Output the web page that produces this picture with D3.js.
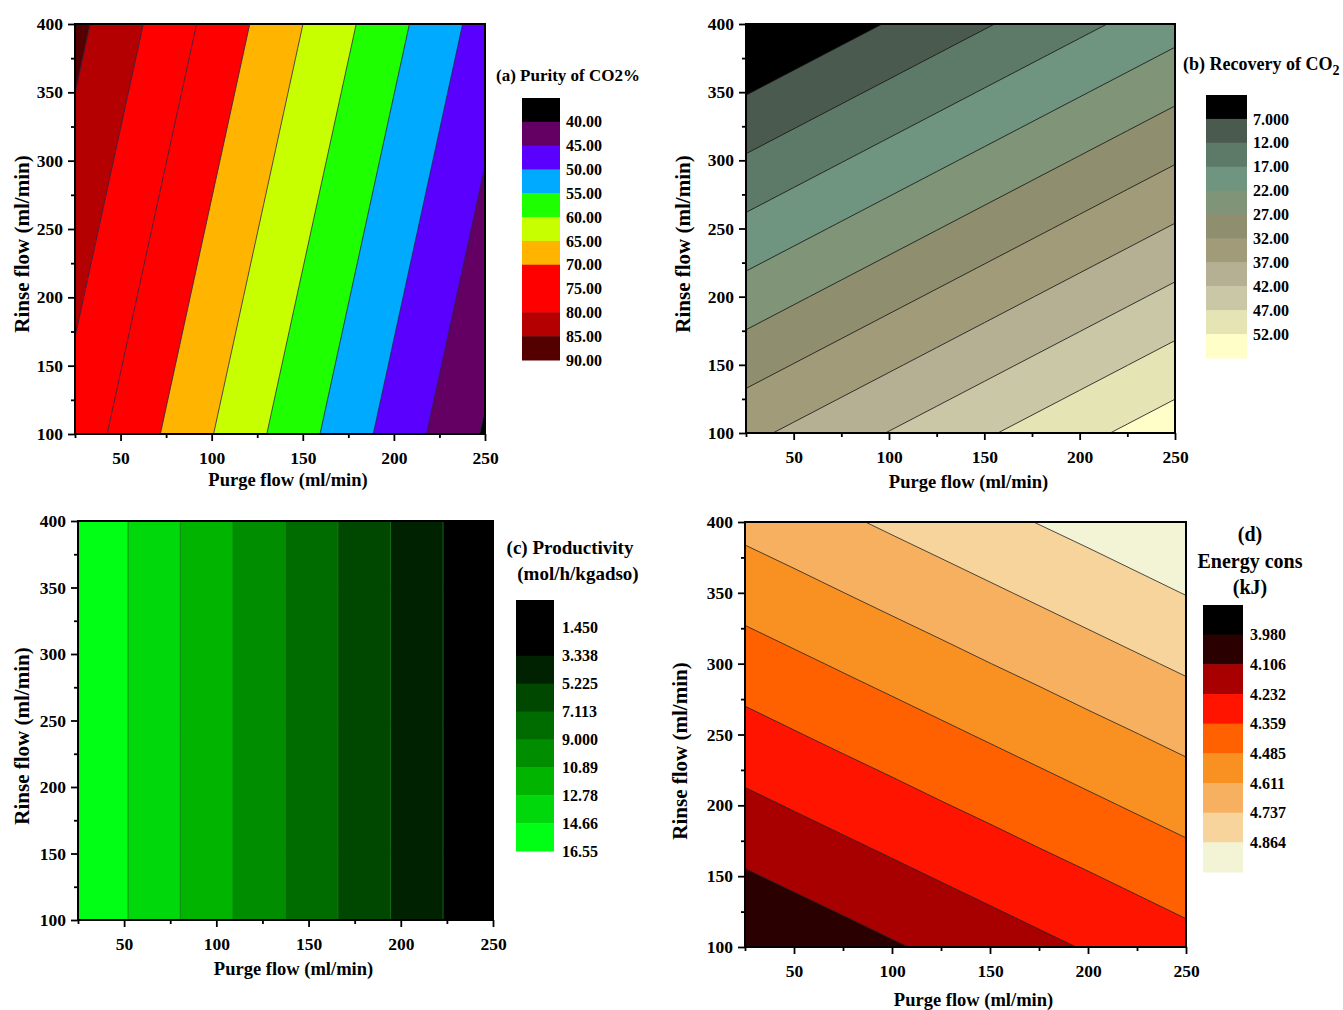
<!DOCTYPE html>
<html>
<head>
<meta charset="utf-8">
<script src="https://cdn.jsdelivr.net/npm/d3@7"></script>
<style>
body { margin: 0; background: #fff; }
text { font-family: "Liberation Serif", "Times New Roman", serif; font-weight: bold; fill: #000; }
</style>
</head>
<body>
<svg width="1343" height="1010"></svg>
<script>
// grid the surfaces are read on (purge across, rinse up)
var purge = [25, 50, 75, 100, 125, 150, 175, 200, 225, 250];
var rinse = [100, 150, 200, 250, 300, 350, 400];

// (a) purity of CO2 %, one row per rinse value
var purity = [
  [78.02, 73.74, 69.46, 65.18, 60.90, 56.62, 52.34, 48.06, 43.78, 39.50],
  [79.42, 75.14, 70.86, 66.58, 62.30, 58.02, 53.74, 49.46, 45.18, 40.90],
  [80.82, 76.54, 72.26, 67.98, 63.70, 59.42, 55.14, 50.86, 46.58, 42.30],
  [82.22, 77.94, 73.66, 69.38, 65.10, 60.82, 56.54, 52.26, 47.98, 43.70],
  [83.62, 79.34, 75.06, 70.78, 66.50, 62.22, 57.94, 53.66, 49.38, 45.10],
  [85.02, 80.74, 76.46, 72.18, 67.90, 63.62, 59.34, 55.06, 50.78, 46.50],
  [86.42, 82.14, 77.86, 73.58, 69.30, 65.02, 60.74, 56.46, 52.18, 47.90]
];
var purityLabels = ["40.00", "45.00", "50.00", "55.00", "60.00", "65.00", "70.00", "75.00", "80.00", "85.00", "90.00"];
var purityColors = ["#000000", "#640064", "#5a00ff", "#00aaff", "#1eff00", "#c8ff00", "#ffb400", "#ff0000", "#ff0000", "#b40000", "#550000"];

// (b) recovery of CO2
var recovery = [
  [35.80, 37.92, 40.04, 42.16, 44.28, 46.40, 48.52, 50.64, 52.76, 54.88],
  [29.99, 32.11, 34.23, 36.35, 38.47, 40.59, 42.71, 44.83, 46.95, 49.07],
  [24.18, 26.30, 28.42, 30.54, 32.66, 34.78, 36.90, 39.02, 41.14, 43.26],
  [18.37, 20.49, 22.61, 24.73, 26.85, 28.97, 31.09, 33.21, 35.33, 37.45],
  [12.56, 14.68, 16.80, 18.92, 21.04, 23.16, 25.28, 27.40, 29.52, 31.64],
  [6.75, 8.87, 10.99, 13.11, 15.23, 17.35, 19.47, 21.59, 23.71, 25.83],
  [0.94, 3.06, 5.18, 7.30, 9.42, 11.54, 13.66, 15.78, 17.90, 20.02]
];
var recoveryLabels = ["7.000", "12.00", "17.00", "22.00", "27.00", "32.00", "37.00", "42.00", "47.00", "52.00"];
var recoveryColors = ["#000000", "#4b5a4f", "#5d7a68", "#6f947f", "#809478", "#8f8e6e", "#a19b79", "#b5b094", "#cac7a7", "#e5e4b5", "#fffec8"];

// (c) productivity (mol/h/kgadso)
var productivity = [
  [16.46, 14.80, 13.14, 11.49, 9.83, 8.17, 6.51, 4.86, 3.20, 1.54],
  [16.46, 14.80, 13.14, 11.49, 9.83, 8.17, 6.51, 4.86, 3.20, 1.54],
  [16.46, 14.80, 13.14, 11.49, 9.83, 8.17, 6.51, 4.86, 3.20, 1.54],
  [16.46, 14.80, 13.14, 11.49, 9.83, 8.17, 6.51, 4.86, 3.20, 1.54],
  [16.46, 14.80, 13.14, 11.49, 9.83, 8.17, 6.51, 4.86, 3.20, 1.54],
  [16.46, 14.80, 13.14, 11.49, 9.83, 8.17, 6.51, 4.86, 3.20, 1.54],
  [16.46, 14.80, 13.14, 11.49, 9.83, 8.17, 6.51, 4.86, 3.20, 1.54]
];
var productivityLabels = ["1.450", "3.338", "5.225", "7.113", "9.000", "10.89", "12.78", "14.66", "16.55"];
var productivityColors = ["#000000", "#000000", "#002200", "#004800", "#006c00", "#008e00", "#00b400", "#00d80c", "#00ff14"];

// (d) energy consumption (kJ)
var energy = [
  [3.983, 4.020, 4.057, 4.094, 4.130, 4.167, 4.204, 4.241, 4.278, 4.315],
  [4.094, 4.131, 4.167, 4.204, 4.241, 4.278, 4.315, 4.351, 4.388, 4.425],
  [4.204, 4.241, 4.278, 4.315, 4.352, 4.388, 4.425, 4.462, 4.499, 4.536],
  [4.315, 4.352, 4.389, 4.425, 4.462, 4.499, 4.536, 4.573, 4.609, 4.646],
  [4.425, 4.462, 4.499, 4.536, 4.573, 4.610, 4.646, 4.683, 4.720, 4.757],
  [4.536, 4.573, 4.610, 4.647, 4.683, 4.720, 4.757, 4.794, 4.831, 4.868],
  [4.647, 4.683, 4.720, 4.757, 4.794, 4.831, 4.868, 4.904, 4.941, 4.978]
];
var energyLabels = ["3.980", "4.106", "4.232", "4.359", "4.485", "4.611", "4.737", "4.864"];
var energyColors = ["#000000", "#2a0000", "#a80000", "#ff1400", "#ff6000", "#f99022", "#f6b060", "#f6d49c", "#f3f3d6"];

var xMajor = [50, 100, 150, 200, 250],
    xMinor = [25, 75, 125, 175, 225],
    yMajor = [100, 150, 200, 250, 300, 350, 400],
    yMinor = [125, 175, 225, 275, 325, 375];

var svg = d3.select("svg");

var panels = [
  {id: "a", values: purity, labels: purityLabels, colors: purityColors, line: "#26264a",
   box: [75, 485, 24, 434], xt: 480, yt: [29, 244],
   leg: {x: 522, w: 38, y0: 98, y1: 360, lx: 566},
   title: [{t: "(a) Purity of CO2%", x: 496, y: 81, a: "start", s: 17}]},
  {id: "b", values: recovery, labels: recoveryLabels, colors: recoveryColors, line: "#111",
   box: [746, 1175, 24, 433], xt: 482, yt: [690, 244],
   leg: {x: 1206, w: 41, y0: 95, y1: 358, lx: 1253},
   title: [{t: "(b) Recovery of CO", sub: "2", x: 1183, y: 70, a: "start", s: 18}]},
  {id: "c", values: productivity, labels: productivityLabels, colors: productivityColors, line: "#1c7a1c",
   box: [78, 493, 521, 920], xt: 969, yt: [29, 736],
   leg: {x: 516, w: 38, y0: 600, y1: 851, lx: 562},
   title: [{t: "(c) Productivity", x: 570, y: 554, a: "middle", s: 19},
           {t: "(mol/h/kgadso)", x: 578, y: 580, a: "middle", s: 19}]},
  {id: "d", values: energy, labels: energyLabels, colors: energyColors, line: "#222",
   box: [745, 1186, 522, 947], xt: 1000, yt: [687, 751],
   leg: {x: 1203, w: 40, y0: 605, y1: 872, lx: 1250},
   title: [{t: "(d)", x: 1250, y: 541, a: "middle", s: 20},
           {t: "Energy cons", x: 1250, y: 568, a: "middle", s: 20},
           {t: "(kJ)", x: 1250, y: 594, a: "middle", s: 20}]}
];

panels.forEach(drawPanel);

function drawPanel(p) {
  var x0 = p.box[0], x1 = p.box[1], y0 = p.box[2], y1 = p.box[3];
  var x = d3.scaleLinear().domain([25, 250]).range([x0, x1]);
  var y = d3.scaleLinear().domain([100, 400]).range([y1, y0]);
  var levels = p.labels.map(Number);
  var g = svg.append("g");

  // contour bands from the grid
  var flat = [].concat.apply([], p.values);
  var bands = d3.contours().size([purge.length, rinse.length]).thresholds(levels)(flat);
  var dx = purge[1] - purge[0], dy = rinse[1] - rinse[0];
  var path = d3.geoPath(d3.geoTransform({
    point: function(px, py) {
      this.stream.point(x(purge[0] + (px - 0.5) * dx), y(rinse[0] + (py - 0.5) * dy));
    }
  }));

  g.append("clipPath").attr("id", "clip-" + p.id)
    .append("rect").attr("x", x0).attr("y", y0).attr("width", x1 - x0).attr("height", y1 - y0);

  var plot = g.append("g").attr("clip-path", "url(#clip-" + p.id + ")");
  plot.append("rect")
    .attr("x", x0).attr("y", y0).attr("width", x1 - x0).attr("height", y1 - y0)
    .attr("fill", p.colors[0]);
  plot.selectAll("path")
    .data(bands)
    .join("path")
      .attr("d", path)
      .attr("fill", function(d, i) { return p.colors[Math.min(i + 1, p.colors.length - 1)]; })
      .attr("stroke", p.line)
      .attr("stroke-width", 0.8);

  // axes
  var ax = g.append("g").attr("transform", "translate(0," + y1 + ")");
  ax.call(d3.axisBottom(x).tickValues(xMajor).tickSize(7).tickPadding(11).tickFormat(d3.format("d")));
  ax.append("g").call(d3.axisBottom(x).tickValues(xMinor).tickSize(4).tickFormat(""));
  var ay = g.append("g").attr("transform", "translate(" + x0 + ",0)");
  ay.call(d3.axisLeft(y).tickValues(yMajor).tickSize(7).tickPadding(5).tickFormat(d3.format("d")));
  ay.append("g").call(d3.axisLeft(y).tickValues(yMinor).tickSize(4).tickFormat(""));
  g.selectAll(".domain").remove();
  g.selectAll(".tick line").attr("stroke", "#000").attr("stroke-width", 1.8);
  g.selectAll(".tick text").attr("font-size", 17.5).attr("font-family", null);

  g.append("rect")
    .attr("x", x0).attr("y", y0).attr("width", x1 - x0).attr("height", y1 - y0)
    .attr("fill", "none").attr("stroke", "#000").attr("stroke-width", 2);

  g.append("text")
    .attr("x", (x0 + x1) / 2 + 8).attr("y", p.xt + 6)
    .attr("text-anchor", "middle").attr("font-size", 18.5)
    .text("Purge flow (ml/min)");
  g.append("text")
    .attr("transform", "translate(" + p.yt[0] + "," + p.yt[1] + ") rotate(-90)")
    .attr("text-anchor", "middle").attr("font-size", 21)
    .text("Rinse flow (ml/min)");

  // colour key
  var n = p.colors.length, bh = (p.leg.y1 - p.leg.y0) / n;
  var leg = g.append("g");
  leg.selectAll("rect")
    .data(p.colors)
    .join("rect")
      .attr("x", p.leg.x).attr("y", function(d, i) { return p.leg.y0 + i * bh; })
      .attr("width", p.leg.w).attr("height", bh + 0.5)
      .attr("fill", function(d) { return d; });
  leg.selectAll("text")
    .data(p.labels)
    .join("text")
      .attr("x", p.leg.lx).attr("y", function(d, i) { return p.leg.y0 + (i + 1) * bh; })
      .attr("dy", "0.35em").attr("font-size", 16)
      .text(function(d) { return d; });

  p.title.forEach(function(t) {
    var tx = g.append("text")
      .attr("x", t.x).attr("y", t.y).attr("text-anchor", t.a).attr("font-size", t.s)
      .text(t.t);
    if (t.sub) tx.append("tspan").attr("dy", 5).attr("font-size", 14).text(t.sub);
  });
}
</script>
</body>
</html>
